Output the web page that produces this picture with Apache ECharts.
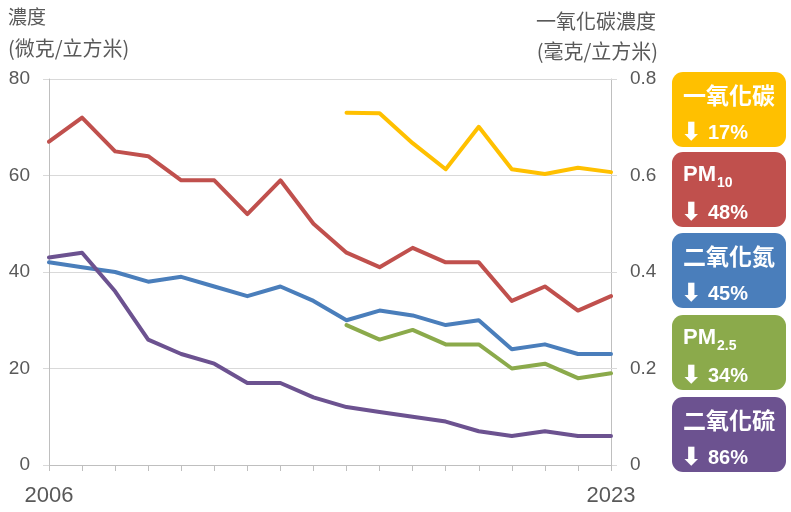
<!DOCTYPE html>
<html><head><meta charset="utf-8">
<script src="https://cdn.jsdelivr.net/npm/echarts@6/dist/echarts.min.js"></script>
<style>html,body{margin:0;padding:0;background:#fff}#c{width:791px;height:512px}</style>
</head><body><div id="c"></div>
<script>
var years = ['2006','2007','2008','2009','2010','2011','2012','2013','2014','2015','2016','2017','2018','2019','2020','2021','2022','2023'];
var pm10 = [67,72,65,64,59,59,52,59,50,44,41,45,42,42,34,37,32,35];
var no2  = [42,41,40,38,39,37,35,37,34,30,32,31,29,30,24,25,23,23];
var so2  = [43,44,36,26,23,21,17,17,14,12,11,10,9,7,6,7,6,6];
var pm25 = [null,null,null,null,null,null,null,null,null,29,26,28,25,25,20,21,18,19];
var co   = [null,null,null,null,null,null,null,null,null,0.73,0.729,0.667,0.613,0.701,0.613,0.603,0.616,0.607];
var leftTicks = [0,20,40,60,80];
var rightTicks = [0,0.2,0.4,0.6,0.8];
var badgeTitles = ['一氧化碳','PM','二氧化氮','PM','二氧化硫'];
var badgeSubs = ['','10','','2.5',''];
var badgePct = ['17%','48%','45%','34%','86%'];
var colors = ['#FFC000','#C0504D','#4A7EBB','#8BAA4B','#6C5290'];

var chart = echarts.init(document.getElementById('c'), null, {renderer:'canvas'});
var gray = '#595959';
var cjk = '"Noto Sans CJK TC","Noto Sans CJK SC",sans-serif';
var lat = '"Liberation Sans",Arial,sans-serif';

function lineSeries(name, data, color, axis){
  return {name:name, type:'line', data:data, yAxisIndex:axis, symbol:'none', smooth:false,
    connectNulls:false, lineStyle:{width:4, color:color, cap:'round', join:'round'}, itemStyle:{color:color}, z:3};
}

var graphic = [
  {type:'text', left:8, top:7, style:{text:'濃度', font:'19px '+cjk, fill:gray}},
  {type:'text', left:8, top:38, style:{text:'(微克/立方米)', font:'20px '+cjk, fill:gray}},
  {type:'text', right:135, top:11, style:{text:'一氧化碳濃度', font:'20px '+cjk, fill:gray}},
  {type:'text', right:133, top:41, style:{text:'(毫克/立方米)', font:'20px '+cjk, fill:gray}}
];
var tops = [72,152,233,315,397];
for (var i=0;i<5;i++){
  var ch = [
    {type:'rect', shape:{x:0,y:0,width:114,height:75,r:11}, style:{fill:colors[i]}},
    {type:'text', x:11, y:23, style:{text:badgeTitles[i], font: badgeSubs[i] ? 'bold 22px '+lat : 'bold 23px '+cjk, fill:'#fff', verticalAlign:'middle'}},
    {type:'text', x:9, y:61, style:{text:'⬇', font:'bold 25px "DejaVu Sans",sans-serif', fill:'#fff', verticalAlign:'middle'}},
    {type:'text', x:36, y:61, style:{text:badgePct[i], font:'bold 20px '+lat, fill:'#fff', verticalAlign:'middle'}}
  ];
  if (badgeSubs[i]) ch.push({type:'text', x:45, y:31, style:{text:badgeSubs[i], font:'bold 14px '+lat, fill:'#fff', verticalAlign:'middle'}});
  graphic.push({type:'group', left:672, top:tops[i], children:ch});
}

chart.setOption({
  animation:false,
  backgroundColor:'#fff',
  grid:{left:49, right:180, top:79, bottom:47, containLabel:false},
  xAxis:{type:'category', data:years, boundaryGap:false,
    axisLine:{lineStyle:{color:'#BFBFBF', width:1}},
    axisTick:{show:true, length:6, lineStyle:{color:'#BFBFBF'}, interval:0},
    axisLabel:{margin:20, fontSize:22, fontFamily:lat, color:gray,
      interval:function(idx){return idx===0 || idx===years.length-1;}},
    splitLine:{show:false}},
  yAxis:[
    {type:'value', min:leftTicks[0], max:leftTicks[leftTicks.length-1], interval:leftTicks[1]-leftTicks[0], position:'left',
      axisLine:{show:true, lineStyle:{color:'#BFBFBF'}},
      axisTick:{show:true, length:6, lineStyle:{color:'#D9D9D9'}},
      axisLabel:{margin:19, fontSize:19, fontFamily:lat, color:gray},
      splitLine:{show:true, lineStyle:{color:'#D9D9D9', width:1}}},
    {type:'value', min:rightTicks[0], max:rightTicks[rightTicks.length-1], interval:0.2, position:'right',
      axisLine:{show:true, lineStyle:{color:'#BFBFBF'}},
      axisTick:{show:true, length:6, lineStyle:{color:'#D9D9D9'}},
      axisLabel:{margin:19, fontSize:19, fontFamily:lat, color:gray,
        formatter:function(v){return v===0?'0':v.toFixed(1);}},
      splitLine:{show:false}}
  ],
  series:[
    lineSeries('PM10', pm10, colors[1], 0),
    lineSeries('二氧化氮', no2, colors[2], 0),
    lineSeries('PM2.5', pm25, colors[3], 0),
    lineSeries('二氧化硫', so2, colors[4], 0),
    lineSeries('一氧化碳', co, colors[0], 1)
  ],
  graphic:graphic
});
</script></body></html>
